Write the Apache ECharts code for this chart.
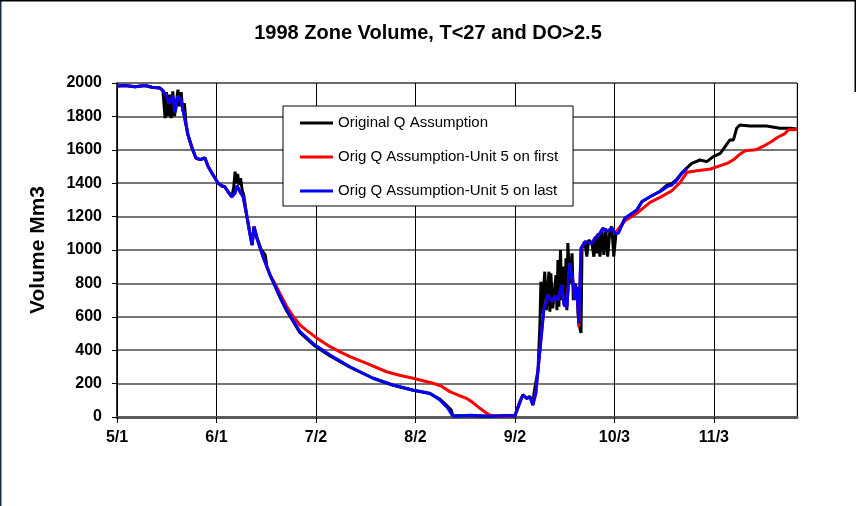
<!DOCTYPE html>
<html>
<head>
<meta charset="utf-8">
<script src="https://cdn.jsdelivr.net/npm/echarts@6/dist/echarts.min.js"></script>
<style>
html,body{margin:0;padding:0;background:#fff;}
#c{width:856px;height:506px;}
</style>
</head>
<body>
<div id="c"></div>
<script>
// x values are days after 5/1/1998
var tickLabels = ['5/1','6/1','7/2','8/2','9/2','10/3','11/3'];
var seriesNames = ['Original Q Assumption','Orig Q Assumption-Unit 5 on first','Orig Q Assumption-Unit 5 on last'];

var blackDays = [0,2.5,5.6,8.7,10.9,13.4,14.3,15.0,15.4,15.9,16.4,16.9,17.4,17.9,18.4,19.0,19.5,20.0,20.5,21.0,21.5,22.1,23.4,24.6,25.9,27.4,28.4,29.9,31.5,32.7,33.6,34.6,35.8,36.4,36.8,37.2,37.6,38.0,38.5,39.0,39.5,40.5,41.4,42.1,42.7,43.6,44.2,45.0,45.6,46.2,46.7,47.7,49.2,50.8,52.9,54.8,57.0,61.7,66.4,72.6,79.8,86.0,92.2,97.5,100.6,103.1,104.2,104.6,110,116.2,120.9,124.0,125.6,126.5,127.7,128.7,129.6,130.0,130.5,131.2,131.8,132.1,132.4,133.3,133.8,134.6,134.9,135.2,135.8,136.8,137.1,137.4,137.7,138.2,138.6,139.3,139.6,139.9,140.2,140.5,141.1,141.8,142.2,142.7,143.3,143.9,144.6,144.9,145.8,146.4,147.0,148.0,148.6,149.1,149.6,149.9,150.5,151.1,151.7,152.3,152.9,153.6,154.2,154.8,155.5,156.2,158.3,159.8,162.0,163.6,166.1,169.2,171.4,172.9,174.5,176.0,177.6,179.1,181.7,183.8,185.8,188.0,189.5,191.0,192.1,193.1,194.1,197.2,202.4,206.6,209.7,211.9];
var blackVals = [1982,1985,1978,1985,1975,1970,1955,1790,1945,1800,1930,1790,1950,1800,1870,1960,1860,1945,1830,1880,1760,1690,1610,1551,1541,1551,1500,1451,1401,1383,1379,1349,1319,1380,1469,1400,1455,1390,1430,1360,1330,1199,1101,1030,1140,1075,1065,1000,1010,970,900,850,785,715,635,575,505,425,365,298,232,190,160,140,108,62,40,8,8,5,8,8,92,132,112,122,72,150,142,281,560,810,620,870,640,870,630,860,650,850,640,940,660,1000,700,900,660,950,640,1042,800,980,700,800,760,560,503,1010,1050,960,1060,1040,960,1080,980,1100,960,1120,970,1130,960,1120,1140,960,1100,1110,1190,1210,1240,1290,1319,1352,1388,1398,1425,1462,1492,1519,1539,1529,1559,1579,1619,1659,1659,1729,1749,1743,1743,1729,1729,1725];

var redDays = [0,2.5,5.6,8.7,10.9,13.4,14.3,15.3,16.2,17.4,18.1,19.0,19.9,20.6,22.1,23.4,24.6,25.9,27.4,28.4,29.9,31.5,32.7,33.6,34.6,35.8,36.8,37.4,38.3,39.3,40.5,41.4,42.1,42.7,43.6,44.2,45.5,46.7,47.7,49.2,50.8,52.9,55.0,57.0,59.0,61.7,64.0,66.4,69.5,72.6,77.8,84.0,88.0,92.3,98.5,101.0,103.7,106.5,108.9,111.0,113.1,115.0,116.2,118.0,124.0,125.6,126.5,127.7,128.7,129.6,130.5,131.2,132.4,133.0,133.9,134.3,135.5,136.5,137.4,138.6,139.3,140.2,141.1,142.0,142.7,143.3,143.9,144.6,145.8,148.0,148.9,150.5,151.4,152.7,154.2,155.2,158.3,162.0,166.1,169.2,172.9,175.5,177.6,180.7,185.0,188.0,190.3,192.1,194.2,195.8,199.0,201.3,204.0,205.9,208.0,209.3,211.9];
var redVals = [1982,1985,1978,1985,1975,1970,1955,1925,1880,1922,1825,1920,1900,1835,1690,1610,1551,1541,1551,1500,1451,1401,1383,1379,1349,1319,1341,1385,1349,1319,1199,1101,1030,1140,1070,1060,960,900,850,800,738,662,600,551,520,481,450,421,390,361,321,271,250,232,202,185,152,130,112,85,52,25,12,5,8,92,132,112,122,72,142,281,521,641,701,731,691,721,701,790,671,661,920,820,701,780,540,1010,1050,1040,1070,1100,1130,1110,1130,1100,1175,1220,1285,1315,1355,1405,1465,1475,1485,1505,1520,1540,1575,1595,1600,1620,1650,1675,1695,1720,1722];

var blueDays = [0,2.5,5.6,8.7,10.9,13.4,14.3,15.3,16.2,17.4,18.1,19.0,19.9,20.6,22.1,23.4,24.6,25.9,27.4,28.4,29.9,31.5,32.7,33.6,34.6,35.8,36.8,37.4,38.3,39.3,40.5,41.4,42.1,42.7,43.6,44.2,45.5,46.7,47.7,49.2,50.8,52.9,54.8,57.0,61.7,66.4,72.6,79.8,86.0,92.2,97.5,100.6,103.1,104.4,105.3,110,116.2,120.9,124.0,125.6,126.5,127.7,128.7,129.6,130.5,131.2,132.4,133.0,133.9,134.3,135.5,136.5,137.4,138.6,139.3,140.2,141.1,142.0,142.7,143.3,143.9,144.6,145.8,148.0,148.9,150.5,151.4,152.7,154.2,155.2,156.2,158.3,159.8,162.0,163.6,166.1,169.2,171.4,172.9,174.5,176.0,177.6];
var blueVals = [1982,1985,1978,1985,1975,1970,1955,1925,1880,1922,1825,1920,1900,1835,1690,1610,1551,1541,1551,1500,1451,1401,1383,1379,1349,1319,1341,1385,1349,1319,1199,1101,1030,1140,1070,1060,960,900,850,790,720,641,581,511,431,371,301,232,192,162,142,102,52,12,5,10,5,8,8,92,132,112,122,72,142,281,521,641,701,731,691,721,701,790,671,661,920,820,701,780,561,1010,1050,1040,1070,1100,1130,1110,1130,1100,1100,1190,1210,1240,1290,1319,1349,1379,1389,1419,1459,1489];

function pairs(d, v){ return d.map(function(x,i){ return [x, v[i]]; }); }

var chart = echarts.init(document.getElementById('c'), null, {renderer:'canvas'});
var FONT = '"Liberation Sans", Arial, sans-serif';
var NARROW = '"Liberation Sans Narrow", "Liberation Sans", Arial, sans-serif';
chart.setOption({
  animation:false,
  backgroundColor:'#ffffff',
  title:{
    text:'1998 Zone Volume, T<27 and DO>2.5',
    left:'center', top:18,
    textStyle:{fontFamily:FONT, fontWeight:'bold', fontSize:20, color:'#000'}
  },
  grid:{left:117, right:59, top:83, bottom:89, show:true, borderColor:'#999', borderWidth:1, backgroundColor:'transparent'},
  legend:{
    orient:'vertical', left:283, top:106,
    backgroundColor:'#fff', borderColor:'#000', borderWidth:1,
    padding:[8,15,6,17], itemGap:16, itemWidth:33, itemHeight:3,
    icon:'rect',
    textStyle:{fontFamily:FONT, fontSize:15, color:'#000', lineHeight:18},
    data:seriesNames
  },
  xAxis:{
    type:'value', min:0, max:211.9, interval:31,
    axisLine:{show:true, onZero:false, lineStyle:{color:'#5a5a5a', width:3}},
    axisTick:{show:true, length:6, lineStyle:{color:'#000', width:1}},
    splitLine:{show:true, lineStyle:{color:'#000', width:1}},
    axisLabel:{
      margin:13, fontFamily:NARROW, fontWeight:'bold', fontSize:16, color:'#000',
      showMaxLabel:false,
      formatter:function(v){ var i=Math.round(v/31); return (Math.abs(v-i*31)<0.01 && tickLabels[i]) ? tickLabels[i] : ''; }
    }
  },
  yAxis:{
    type:'value', min:0, max:2000, interval:200,
    name:'Volume Mm3', nameLocation:'middle', nameGap:68, nameRotate:90,
    nameTextStyle:{fontFamily:FONT, fontWeight:'bold', fontSize:21, color:'#000'},
    axisLine:{show:true, lineStyle:{color:'#000', width:1.5}},
    axisTick:{show:true, length:5, lineStyle:{color:'#000', width:1}},
    splitLine:{show:true, lineStyle:{color:'#4a4a4a', width:1.5}},
    axisLabel:{margin:15, fontFamily:NARROW, fontWeight:'bold', fontSize:16, color:'#000',
      formatter:function(v){ return String(v); }}
  },
  series:[
    {name:seriesNames[0], type:'line', data:pairs(blackDays, blackVals), symbol:'none', lineStyle:{color:'#000000', width:3}, itemStyle:{color:'#000000'}, z:2},
    {name:seriesNames[1], type:'line', data:pairs(redDays, redVals), symbol:'none', lineStyle:{color:'#ff0000', width:3}, itemStyle:{color:'#ff0000'}, z:3},
    {name:seriesNames[2], type:'line', data:pairs(blueDays, blueVals), symbol:'none', lineStyle:{color:'#0000ff', width:3}, itemStyle:{color:'#0000ff'}, z:4}
  ],
  graphic:[
    {type:'line', shape:{x1:0.5,y1:0,x2:0.5,y2:506}, style:{stroke:'#1a2a4a', lineWidth:2}, silent:true},
    {type:'line', shape:{x1:0,y1:0.5,x2:856,y2:0.5}, style:{stroke:'#000', lineWidth:2}, silent:true},
    {type:'line', shape:{x1:855.5,y1:0,x2:855.5,y2:92}, style:{stroke:'#000', lineWidth:2}, silent:true}
  ]
});
</script>
</body>
</html>
